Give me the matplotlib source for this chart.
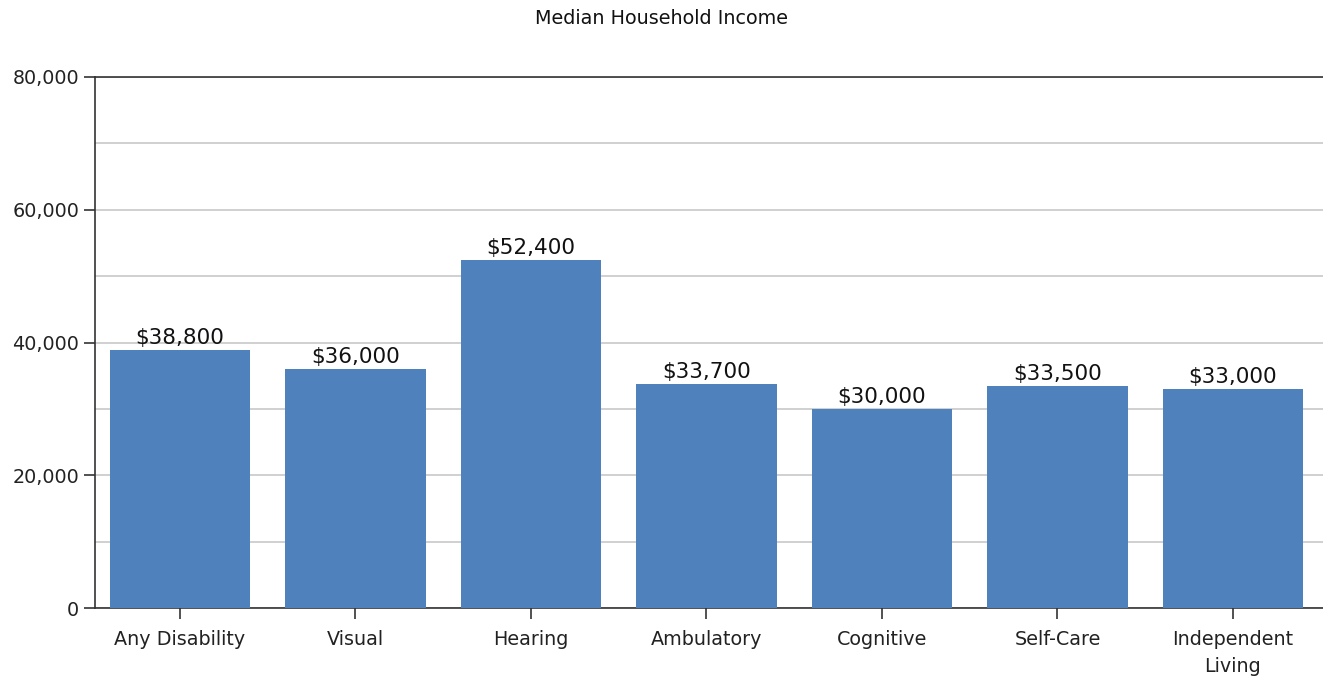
import numpy as np
from matplotlib import pyplot as plt
from matplotlib.ticker import FuncFormatter, MultipleLocator

categories = ["Any Disability", "Visual", "Hearing", "Ambulatory",
              "Cognitive", "Self-Care", "Independent\nLiving"]
income = [38800, 36000, 52400, 33700, 30000, 33500, 33000]
bar_labels = ["$38,800", "$36,000", "$52,400", "$33,700",
              "$30,000", "$33,500", "$33,000"]

plt.rcParams['font.family'] = ['DejaVu Sans']

fig = plt.figure(figsize=(13.23, 6.81), dpi=100, facecolor='white')
ax = fig.add_axes([95/1323, 73/681, 1 - 95/1323, 531/681])

x = np.arange(len(categories))
bars = ax.bar(x, income, width=0.8, color='#4f81bd', zorder=3)

# -------------- value labels
for b, lab in zip(bars, bar_labels):
    ax.text(b.get_x() + b.get_width()/2, b.get_height() + 300, lab,
            ha='center', va='bottom', fontsize=15.5, color='#111111')

ax.set_xlim(-0.484, 6.513)
ax.set_ylim(0, 80000)
ax.yaxis.set_major_locator(MultipleLocator(20000))
ax.yaxis.set_minor_locator(MultipleLocator(10000))
ax.yaxis.set_major_formatter(FuncFormatter(lambda v, p: f"{int(v):,}"))
ax.grid(axis='y', which='both', color='#c8c8c8', linewidth=1.2, zorder=0)
ax.tick_params(axis='y', which='minor', length=0)
ax.tick_params(axis='both', which='major', length=8, width=1.2,
               color='#333333', labelcolor='#222222', labelsize=13.8)
ax.tick_params(axis='x', pad=8)

ax.set_xticks(x)
ax.set_xticklabels(categories, linespacing=1.55)

for s in ['left', 'bottom', 'top']:
    ax.spines[s].set_color('#333333')
    ax.spines[s].set_linewidth(1.2)
ax.spines['right'].set_visible(False)

fig.text(0.5, 1 - 18/681, "Median Household Income", ha='center', va='center',
         fontsize=13.8, color='#111111')

plt.savefig('out.png', dpi=100, facecolor='white')
